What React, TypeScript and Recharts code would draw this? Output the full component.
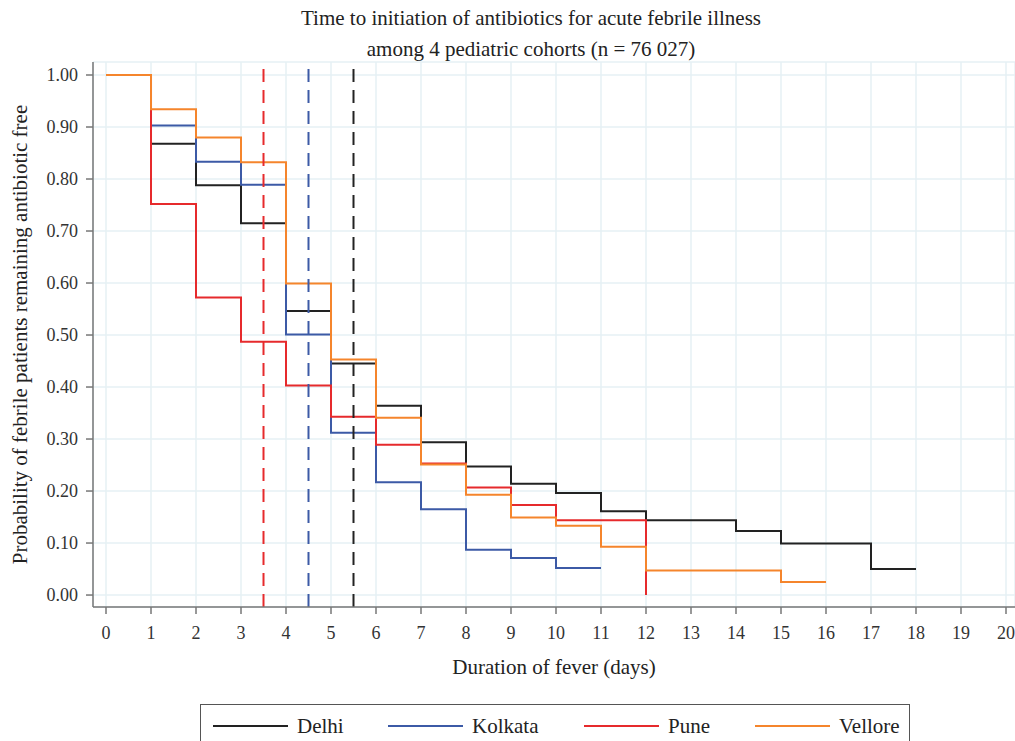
import { LineChart, Line, XAxis, YAxis, CartesianGrid, ReferenceLine, Legend } from "recharts";

// Kaplan-Meier style steps
const delhiDays = [0, 1, 2, 3, 4, 5, 6, 7, 8, 9, 10, 11, 12, 14, 15, 17, 18];
const delhiFree = [1, 0.868, 0.788, 0.715, 0.546, 0.445, 0.364, 0.294, 0.247, 0.214, 0.196, 0.161, 0.144, 0.123, 0.099, 0.05, 0.05];

const kolkataDays = [0, 1, 2, 3, 4, 5, 6, 7, 8, 9, 10, 11];
const kolkataFree = [1, 0.903, 0.833, 0.789, 0.501, 0.312, 0.217, 0.165, 0.087, 0.071, 0.052, 0.052];

const puneDays = [0, 1, 2, 3, 4, 5, 6, 7, 8, 9, 10, 12];
const puneFree = [1, 0.752, 0.572, 0.487, 0.403, 0.343, 0.289, 0.253, 0.207, 0.173, 0.144, 0];

const velloreDays = [0, 1, 2, 3, 4, 5, 6, 7, 8, 9, 10, 11, 12, 15, 16];
const velloreFree = [1, 0.934, 0.88, 0.832, 0.599, 0.453, 0.341, 0.251, 0.193, 0.149, 0.133, 0.093, 0.047, 0.025, 0.025];

// median time per cohort (dashed lines)
const medianCities = ["Pune", "Kolkata", "Delhi"];
const medianDays = [3.5, 4.5, 5.5];

const xTicks = [0, 1, 2, 3, 4, 5, 6, 7, 8, 9, 10, 11, 12, 13, 14, 15, 16, 17, 18, 19, 20];
const yTicks = [0, 0.1, 0.2, 0.3, 0.4, 0.5, 0.6, 0.7, 0.8, 0.9, 1.0];

const COLORS: Record<string, string> = {
  Delhi: "#222222",
  Kolkata: "#3c5aa6",
  Pune: "#e62a2c",
  Vellore: "#f5852c",
};

const FONT = '"Liberation Serif", "DejaVu Serif", serif';

const toRows = (days: number[], vals: number[]) => days.map((d, i) => ({ day: d, p: vals[i] }));

const series = [
  { name: "Delhi", rows: toRows(delhiDays, delhiFree) },
  { name: "Kolkata", rows: toRows(kolkataDays, kolkataFree) },
  { name: "Pune", rows: toRows(puneDays, puneFree) },
  { name: "Vellore", rows: toRows(velloreDays, velloreFree) },
];

const legendItemW = [175, 196, 171, 150];

function LegendBox() {
  return (
    <div
      style={{
        boxSizing: "border-box",
        width: 710,
        height: 44,
        border: "1.5px solid #555",
        display: "flex",
        alignItems: "center",
        paddingLeft: 12,
        fontFamily: FONT,
        fontSize: 21,
        color: "#222",
      }}
    >
      {series.map((s, i) => (
        <div key={s.name} style={{ display: "flex", alignItems: "center", gap: 9, width: legendItemW[i], flex: "none" }}>
          <span style={{ display: "inline-block", width: 75, height: 2, background: COLORS[s.name] }} />
          <span>{s.name}</span>
        </div>
      ))}
    </div>
  );
}

export default function App() {
  const tickStyle = { fontSize: 18, fill: "#333", fontFamily: FONT };
  return (
    <div style={{ position: "absolute", left: 0, top: 0, width: 1015, height: 741, background: "#fff" }}>
      <div style={{ position: "absolute", left: 0, width: 1062, top: 3, textAlign: "center", fontFamily: FONT, fontSize: 21, color: "#222", lineHeight: "31px" }}>
        Time to initiation of antibiotics for acute febrile illness
        <br />
        among 4 pediatric cohorts (n = 76 027)
      </div>
      <LineChart width={1015} height={741} margin={{ top: 62, right: 0, bottom: 60, left: 33 }}>
        <CartesianGrid stroke="#e6f1f4" strokeWidth={1.5} />
        <XAxis
          type="number"
          dataKey="day"
          domain={[-0.289, 20.2]}
          ticks={xTicks}
          allowDataOverflow
          interval={0}
          stroke="#777"
          strokeWidth={1.5}
          tickSize={7}
          tick={tickStyle}
          tickMargin={12}
          label={{ value: "Duration of fever (days)", position: "insideBottom", offset: -37, style: { fontSize: 21, fill: "#222", fontFamily: FONT } }}
        />
        <YAxis
          type="number"
          dataKey="p"
          width={60}
          domain={[-0.023, 1.025]}
          ticks={yTicks}
          allowDataOverflow
          interval={0}
          stroke="#777"
          strokeWidth={1.5}
          tickSize={7}
          tick={tickStyle}
          tickMargin={8}
          tickFormatter={(v: number) => v.toFixed(2)}
          label={{ value: "Probability of febrile patients remaining antibiotic free", angle: -90, position: "insideLeft", offset: -13, style: { textAnchor: "middle", fontSize: 21, fill: "#222", fontFamily: FONT } }}
        />
        {series.map((s) => (
          <Line
            key={s.name}
            data={s.rows}
            dataKey="p"
            name={s.name}
            type="stepAfter"
            stroke={COLORS[s.name]}
            strokeWidth={2}
            dot={false}
            activeDot={false}
            isAnimationActive={false}
          />
        ))}
        {medianDays.map((d, i) => (
          <ReferenceLine key={medianCities[i]} x={d} stroke={COLORS[medianCities[i]]} strokeWidth={2} strokeDasharray="13 8" />
        ))}
        <Legend content={<LegendBox />} wrapperStyle={{ left: 200, top: 704, width: 710, bottom: "auto" }} />
      </LineChart>
    </div>
  );
}
